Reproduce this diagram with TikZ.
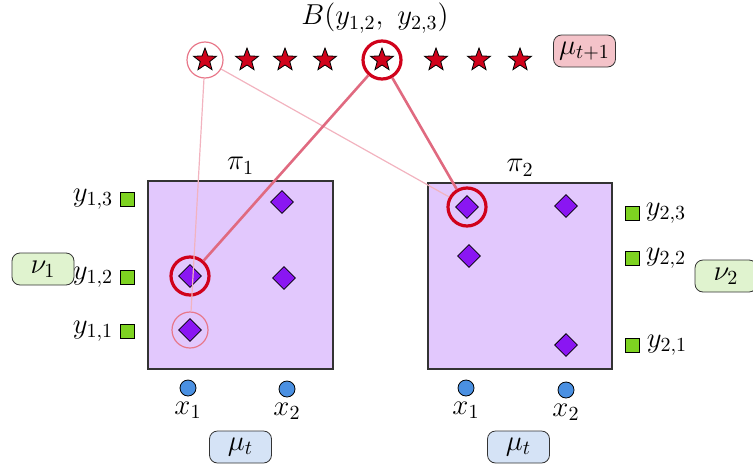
\documentclass[tikz,border=0pt]{standalone}
\usepackage{tikz}
\usetikzlibrary{positioning,shapes.geometric}
\definecolor{rwstar}{HTML}{D0021B}
\definecolor{rwhalo}{HTML}{E8788A}
\definecolor{rwlink}{HTML}{E06A80}
\definecolor{rwfaint}{HTML}{F2B3BF}
\definecolor{rwplan}{HTML}{E2C8FD}
\definecolor{rwdiam}{HTML}{8A16F2}
\definecolor{rwsupp}{HTML}{7ED321}
\definecolor{rwsrc}{HTML}{4A90E2}
\definecolor{rwpink}{HTML}{F4C3C9}
\definecolor{rwgreen}{HTML}{E0F3CF}
\definecolor{rwblue}{HTML}{D5E3F6}
\tikzset{
  plan/.style={draw=black!80, fill=rwplan, semithick, inner sep=0pt},
  atom/.style={star, star points=5, star point ratio=2.4, draw=black, fill=rwstar, minimum size=12pt, inner sep=0pt},
  gem/.style={diamond, draw=black, fill=rwdiam, minimum size=11.5pt, inner sep=0pt},
  supp/.style={rectangle, draw=black, fill=rwsupp, minimum size=7pt, inner sep=0pt},
  src/.style={circle, draw=black, fill=rwsrc, minimum size=8pt, inner sep=0pt},
  halo/.style={circle, draw=rwstar, line width=1.6pt, minimum size=19pt, inner sep=0pt},
  ghost/.style={circle, draw=rwhalo, line width=0.6pt, minimum size=18pt, inner sep=0pt},
  tag/.style={draw=black!80, rounded corners=4pt, minimum width=31pt, minimum height=16pt, inner sep=0pt},
  lbl/.style={inner sep=1pt},
  link/.style={draw=rwlink, line width=1.3pt},
  faint/.style={draw=rwfaint, line width=0.6pt},
}
\begin{document}
\begin{tikzpicture}[x=0.5pt, y=-0.5pt, font=\fontsize{14}{16}\selectfont]
  \useasboundingbox (0,0) rectangle (753,466);
  % barycenter support
  \node (title) at (375,18) {$B(y_{1,2},\ y_{2,3})$};
  \foreach \x [count=\i] in {205,247,285,325,382,436,479,520}
    \node[atom] (s\i) at (\x,60) {};
  \node[tag, fill=rwpink] (mnext) at (584.5,51) {$\mu_{t+1}$};
  % two plans
  \node[plan, minimum width=92.5pt, minimum height=94pt] (pi1) at (240.5,275) {};
  \node[plan, minimum width=92pt, minimum height=93pt] (pi2) at (520,276) {};
  \node[lbl, above=2pt of pi1] {$\pi_1$};
  \node[lbl, above=2pt of pi2] {$\pi_2$};
  \node[gem] (a1) at (282,202) {};
  \node[gem] (a2) at (190,276) {};
  \node[gem] (a3) at (284,278) {};
  \node[gem] (a4) at (190,330) {};
  \node[gem] (b1) at (467,207) {};
  \node[gem] (b2) at (566,206) {};
  \node[gem] (b3) at (469,256) {};
  \node[gem] (b4) at (566,345) {};
  % targets
  \node[supp] (g13) at (127,199) {};
  \node[supp] (g12) at (127,277) {};
  \node[supp] (g11) at (127,331) {};
  \node[lbl, left=2pt of g13] {$y_{1,3}$};
  \node[lbl, left=2pt of g12] {$y_{1,2}$};
  \node[lbl, left=2pt of g11] {$y_{1,1}$};
  \node[supp] (h23) at (632,213) {};
  \node[supp] (h22) at (632,258) {};
  \node[supp] (h21) at (632,345) {};
  \node[lbl, right=2pt of h23] {$y_{2,3}$};
  \node[lbl, right=2pt of h22] {$y_{2,2}$};
  \node[lbl, right=2.5pt of h21] {$y_{2,1}$};
  \node[tag, fill=rwgreen] (nu1) at (43,269) {$\nu_1$};
  \node[tag, fill=rwgreen] (nu2) at (726,276) {$\nu_2$};
  % sources
  \node[src] (p1) at (188,388) {};
  \node[src] (p2) at (287,389) {};
  \node[src] (q1) at (466,388) {};
  \node[src] (q2) at (566,390) {};
  \node[lbl, below=1.5pt of p1] {$x_1$};
  \node[lbl, below=1.5pt of p2] {$x_2$};
  \node[lbl, below=1.5pt of q1] {$x_1$};
  \node[lbl, below=1.5pt of q2] {$x_2$};
  \node[tag, fill=rwblue] (mt1) at (240.5,447) {$\mu_t$};
  \node[tag, fill=rwblue] (mt2) at (518.5,447) {$\mu_t$};
  % matched points
  \node[ghost] (o1) at (s1) {};
  \node[halo] (o5) at (s5) {};
  \node[halo] (oa) at (a2) {};
  \node[ghost] (ob) at (a4) {};
  \node[halo] (oc) at (b1) {};
  \draw[faint] (o1) -- (ob);
  \draw[faint] (o1) -- (oc);
  \draw[link] (o5) -- (oa);
  \draw[link] (o5) -- (oc);
\end{tikzpicture}
\end{document}
